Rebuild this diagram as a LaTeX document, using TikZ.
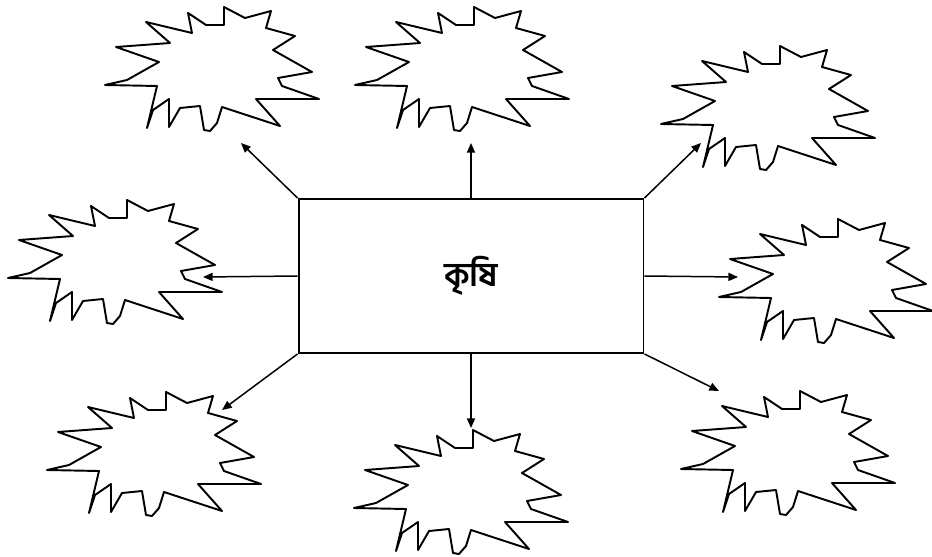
\documentclass[tikz,border=0pt]{standalone}
\usepackage{fontspec}
\newfontfamily\bnfont[Script=Bengali]{Hind Siliguri}
\usetikzlibrary{arrows.meta}

\tikzset{
  arr/.style={line width=0.85pt, -{Triangle[length=5.5pt,width=4.6pt]}},
  burstline/.style={line width=1.1pt, line join=round},
  burst/.pic={
    \draw[burstline] (12,-62) -- (33,-51) -- (59,-58) -- (54,-41) -- (83,-33)
      -- (61,-19) -- (100,3) -- (66,9) -- (70,17) -- (107,30) -- (44,30)
      -- (68,57) -- (10,38) -- (5,54) -- (-2,62) -- (-8,61) -- (-12,37)
      -- (-32,39) -- (-43,58) -- (-43,30) -- (-59,41) -- (-65,59) -- (-55,17)
      -- (-107,16) -- (-85,11) -- (-53,-7) -- (-96,-22) -- (-42,-26)
      -- (-66,-47) -- (-20,-36) -- (-24,-56) -- (-6,-44) -- (12,-44) -- cycle;
  },
}

\begin{document}
\begin{tikzpicture}[x=0.02cm, y=-0.02cm]
  \useasboundingbox (0,0) rectangle (932,557);
  % centre box
  \node[draw, line width=1.1pt, minimum width=6.9cm, minimum height=3.08cm]
    (krishi) at (471,276) {\bnfont\fontsize{19}{23}\selectfont\bfseries কৃষি};
  % bursts round the box
  \foreach \nm/\px/\py in {tl/212/69, tm/462/69, tr/768/108, lf/115/262,
                           rt/826/281, bl/154/454, bm/461/492, br/788/453}
    \pic (\nm) at (\px,\py) {burst};
  % arrow tips
  \coordinate (tl-tip) at (241,143);
  \coordinate (tm-tip) at (471,143);
  \coordinate (tr-tip) at (701,143);
  \coordinate (lf-tip) at (203,277);
  \coordinate (rt-tip) at (738,277);
  \coordinate (bl-tip) at (222,410);
  \coordinate (bm-tip) at (471,428);
  \coordinate (br-tip) at (719,391);
  \draw[arr] (krishi.north west) -- (tl-tip);
  \draw[arr] (krishi.north) -- (tm-tip);
  \draw[arr] (krishi.north east) -- (tr-tip);
  \draw[arr] (krishi.west) -- (lf-tip);
  \draw[arr] (krishi.east) -- (rt-tip);
  \draw[arr] (krishi.south west) -- (bl-tip);
  \draw[arr] (krishi.south) -- (bm-tip);
  \draw[arr] (krishi.south east) -- (br-tip);
\end{tikzpicture}
\end{document}
